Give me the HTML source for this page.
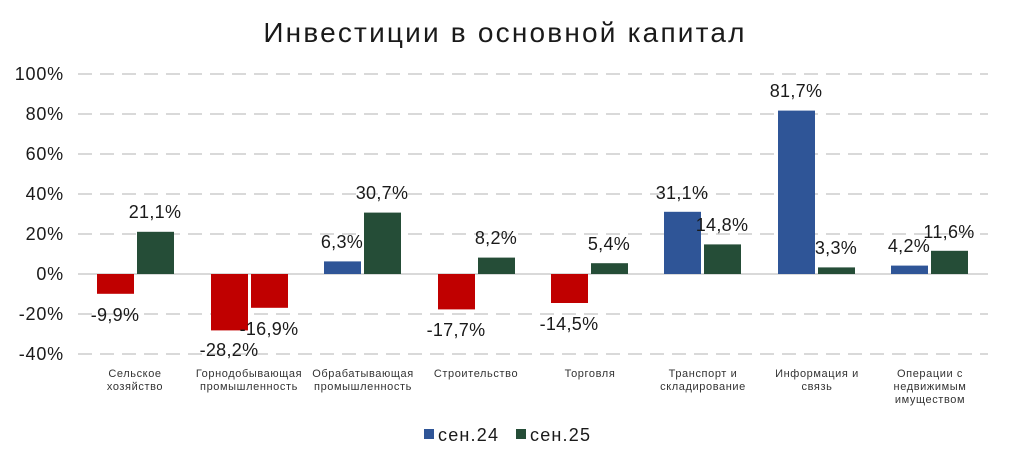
<!DOCTYPE html>
<html><head><meta charset="utf-8"><style>
body{margin:0;background:#fff;}
svg text{font-family:"Liberation Sans","DejaVu Sans",sans-serif;}
</style></head><body>
<svg width="1009" height="463" viewBox="0 0 1009 463" xmlns="http://www.w3.org/2000/svg">
<rect width="1009" height="463" fill="#fff"/>
<text x="505" y="42" font-size="28" letter-spacing="2.2" text-anchor="middle" fill="#1a1a1a">Инвестиции в основной капитал</text>
<g stroke="#d9d9d9" stroke-width="2" stroke-dasharray="14,8">
<line x1="78" y1="74" x2="988" y2="74"/>
<line x1="78" y1="114" x2="988" y2="114"/>
<line x1="78" y1="154" x2="988" y2="154"/>
<line x1="78" y1="194" x2="988" y2="194"/>
<line x1="78" y1="234" x2="988" y2="234"/>
<line x1="78" y1="314" x2="988" y2="314"/>
<line x1="78" y1="354" x2="988" y2="354"/>
</g>
<line x1="78" y1="274" x2="988" y2="274" stroke="#d9d9d9" stroke-width="2"/>
<g font-size="18" letter-spacing="0.8" fill="#1a1a1a" text-anchor="end">
<text x="64" y="80">100%</text><text x="64" y="120">80%</text><text x="64" y="160">60%</text>
<text x="64" y="200">40%</text><text x="64" y="240">20%</text><text x="64" y="280">0%</text>
<text x="64" y="320">-20%</text><text x="64" y="360">-40%</text>
</g>
<rect x="97" y="274" width="37" height="19.8" fill="#C00000"/>
<rect x="137" y="231.8" width="37" height="42.2" fill="#254D37"/>
<rect x="211" y="274" width="37" height="56.4" fill="#C00000"/>
<rect x="251" y="274" width="37" height="33.8" fill="#C00000"/>
<rect x="324" y="261.4" width="37" height="12.6" fill="#2F5597"/>
<rect x="364" y="212.6" width="37" height="61.4" fill="#254D37"/>
<rect x="438" y="274" width="37" height="35.4" fill="#C00000"/>
<rect x="478" y="257.6" width="37" height="16.4" fill="#254D37"/>
<rect x="551" y="274" width="37" height="29" fill="#C00000"/>
<rect x="591" y="263.2" width="37" height="10.8" fill="#254D37"/>
<rect x="664" y="211.8" width="37" height="62.2" fill="#2F5597"/>
<rect x="704" y="244.4" width="37" height="29.6" fill="#254D37"/>
<rect x="778" y="110.6" width="37" height="163.4" fill="#2F5597"/>
<rect x="818" y="267.4" width="37" height="6.6" fill="#254D37"/>
<rect x="891" y="265.6" width="37" height="8.4" fill="#2F5597"/>
<rect x="931" y="250.8" width="37" height="23.2" fill="#254D37"/>
<g font-size="18" letter-spacing="0.3" fill="#1a1a1a" text-anchor="middle">
<text x="115" y="321">-9,9%</text>
<text x="155" y="218">21,1%</text>
<text x="229" y="356">-28,2%</text>
<text x="269" y="335">-16,9%</text>
<text x="342" y="248">6,3%</text>
<text x="382" y="199">30,7%</text>
<text x="456" y="336">-17,7%</text>
<text x="496" y="244">8,2%</text>
<text x="569" y="330">-14,5%</text>
<text x="609" y="250">5,4%</text>
<text x="682" y="199">31,1%</text>
<text x="722" y="231">14,8%</text>
<text x="796" y="97">81,7%</text>
<text x="836" y="254">3,3%</text>
<text x="909" y="252">4,2%</text>
<text x="949" y="238">11,6%</text>
</g>
<g font-size="11" letter-spacing="0.6" fill="#333" text-anchor="middle">
<text x="135" y="377">Сельское</text><text x="135" y="390">хозяйство</text>
<text x="249" y="377">Горнодобывающая</text><text x="249" y="390">промышленность</text>
<text x="363" y="377">Обрабатывающая</text><text x="363" y="390">промышленность</text>
<text x="476" y="377">Строительство</text>
<text x="590" y="377">Торговля</text>
<text x="703" y="377">Транспорт  и</text><text x="703" y="390">складирование</text>
<text x="817" y="377">Информация  и</text><text x="817" y="390">связь</text>
<text x="930" y="377">Операции  с</text><text x="930" y="390">недвижимым</text><text x="930" y="403">имуществом</text>
</g>
<rect x="424" y="429" width="10" height="10" fill="#2F5597"/>
<text x="438" y="441" font-size="18" letter-spacing="1.2" fill="#1a1a1a">сен.24</text>
<rect x="516" y="429" width="10" height="10" fill="#254D37"/>
<text x="530" y="441" font-size="18" letter-spacing="1.2" fill="#1a1a1a">сен.25</text>
</svg>
</body></html>
